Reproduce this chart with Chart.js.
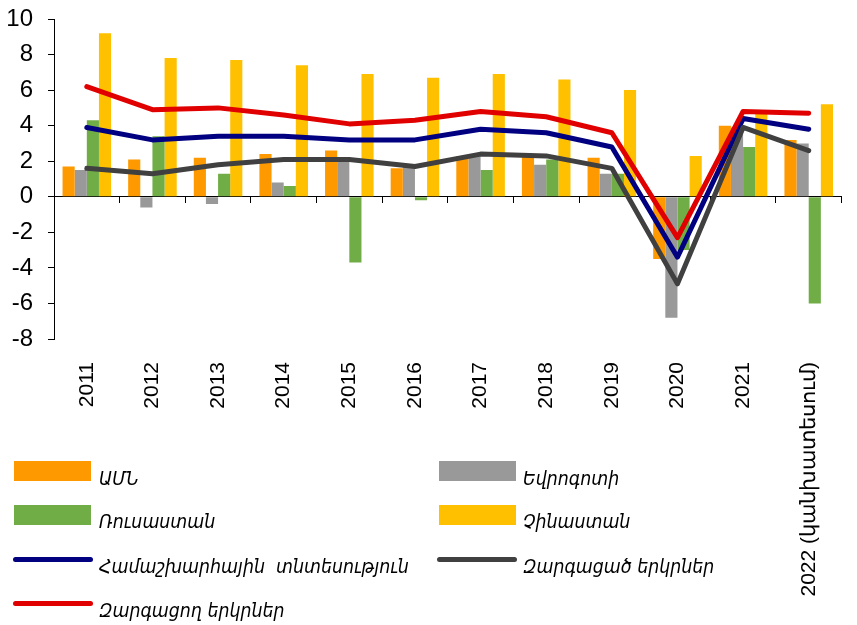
<!DOCTYPE html>
<html>
<head>
<meta charset="utf-8">
<script src="https://cdn.jsdelivr.net/npm/chart.js@4.4.1/dist/chart.umd.min.js"></script>
<style>
  html, body { margin: 0; padding: 0; background: #fff; }
  #wrap { position: relative; width: 857px; height: 625px; }
  #legend .sw { position: absolute; }
  #legend .tx { position: absolute; font-family: 'DejaVu Sans'; font-style: italic; font-size: 20px; line-height: 20px; color: #000; white-space: pre; transform: scaleX(0.87); transform-origin: 0 0; }
</style>
</head>
<body>
<div id="wrap">
  <canvas id="chart" width="857" height="625"></canvas>
  <div id="legend"></div>
</div>
<script>
// categories
const years = ['2011', '2012', '2013', '2014', '2015', '2016', '2017', '2018', '2019', '2020', '2021', '2022 (կանխատեսում)'];

// bars
const usa    = [1.7, 2.1, 2.2, 2.4, 2.6, 1.6, 2.3, 2.3, 2.2, -3.5, 4.0, 3.2];
const euro   = [1.5, -0.6, -0.4, 0.8, 2.0, 1.7, 2.4, 1.8, 1.3, -6.8, 3.9, 3.0];
const russia = [4.3, 3.4, 1.3, 0.6, -3.7, -0.2, 1.5, 2.1, 1.3, -3.0, 2.8, -6.0];
const china  = [9.2, 7.8, 7.7, 7.4, 6.9, 6.7, 6.9, 6.6, 6.0, 2.3, 4.8, 5.2];

// lines
const world      = [3.9, 3.2, 3.4, 3.4, 3.2, 3.2, 3.8, 3.6, 2.8, -3.4, 4.4, 3.8];
const advanced   = [1.6, 1.3, 1.8, 2.1, 2.1, 1.7, 2.4, 2.3, 1.6, -4.9, 3.9, 2.6];
const developing = [6.2, 4.9, 5.0, 4.6, 4.1, 4.3, 4.8, 4.5, 3.6, -2.3, 4.8, 4.7];

const yTicks = [-8, -6, -4, -2, 0, 2, 4, 6, 8, 10];

const names = {
  usa: 'ԱՄՆ',
  euro: 'Եվրոգոտի',
  russia: 'Ռուսաստան',
  china: 'Չինաստան',
  world: 'Համաշխարհային  տնտեսություն',
  advanced: 'Զարգացած երկրներ',
  developing: 'Զարգացող երկրներ'
};

const colors = {
  usa: '#FF9900',
  euro: '#999999',
  russia: '#70AD47',
  china: '#FFC000',
  world: '#000080',
  advanced: '#404040',
  developing: '#E00000'
};

const bar = (key, data) => ({
  type: 'bar',
  label: names[key],
  data,
  backgroundColor: colors[key],
  borderWidth: 0,
  categoryPercentage: 0.74,
  barPercentage: 1.0,
  order: 3
});

const line = (key, data, order) => ({
  type: 'line',
  label: names[key],
  data,
  borderColor: colors[key],
  backgroundColor: colors[key],
  borderWidth: 5,
  pointRadius: 0,
  tension: 0,
  fill: false,
  borderCapStyle: 'round',
  borderJoinStyle: 'round',
  order
});

const ctx = document.getElementById('chart').getContext('2d');
new Chart(ctx, {
  type: 'bar',
  data: {
    labels: years,
    datasets: [
      bar('usa', usa),
      bar('euro', euro),
      bar('russia', russia),
      bar('china', china),
      line('world', world, 2),
      line('advanced', advanced, 1),
      line('developing', developing, 0)
    ]
  },
  options: {
    responsive: false,
    animation: false,
    layout: { padding: { top: 0, right: 2, left: 0, bottom: 0 } },
    plugins: { legend: { display: false }, tooltip: { enabled: false } },
    scales: {
      x: {
        type: 'category',
        offset: true,
        grid: { display: false, drawTicks: false },
        border: { display: false },
        ticks: {
          autoSkip: false,
          minRotation: 90,
          maxRotation: 90,
          padding: 23,
          color: '#000',
          font: { family: "'Liberation Sans', Arial", size: 21 }
        },
        afterFit: s => { s.height = 286; }
      },
      x0: {
        type: 'category',
        position: { y: 0 },
        offset: true,
        grid: { offset: true, drawOnChartArea: false, drawTicks: true, tickLength: 6, color: '#000' },
        border: { color: '#000', width: 1 },
        ticks: { display: false }
      },
      y: {
        min: -8,
        max: 10,
        afterBuildTicks: s => { s.ticks = yTicks.map(v => ({ value: v })); },
        ticks: {
          padding: 15,
          color: '#000',
          font: { family: "'Liberation Sans', Arial", size: 24 }
        },
        grid: { drawOnChartArea: false, tickLength: 6, color: '#000' },
        border: { color: '#000', width: 1 },
        afterFit: s => { s.width = 54; s.paddingTop = 19; s.paddingBottom = 0; }
      }
    }
  }
});

// legend (html, two columns)
const legendItems = [
  { key: 'usa',        kind: 'box',  x: 14,  y: 461, tx: 99,  ty: 468 },
  { key: 'euro',       kind: 'box',  x: 439, y: 461, tx: 523, ty: 468 },
  { key: 'russia',     kind: 'box',  x: 14,  y: 505, tx: 99,  ty: 511 },
  { key: 'china',      kind: 'box',  x: 439, y: 505, tx: 523, ty: 511 },
  { key: 'world',      kind: 'line', x: 13,  y: 559, tx: 99,  ty: 556 },
  { key: 'advanced',   kind: 'line', x: 437, y: 559, tx: 523, ty: 556 },
  { key: 'developing', kind: 'line', x: 13,  y: 603, tx: 99,  ty: 600 }
];
const legend = document.getElementById('legend');
legendItems.forEach(it => {
  const sw = document.createElement('div');
  sw.className = 'sw';
  sw.style.background = colors[it.key];
  if (it.kind === 'box') {
    sw.style.left = it.x + 'px'; sw.style.top = it.y + 'px';
    sw.style.width = '77px'; sw.style.height = '20px';
  } else {
    sw.style.left = it.x + 'px'; sw.style.top = (it.y - 2.5) + 'px';
    sw.style.width = '80px'; sw.style.height = '5px'; sw.style.borderRadius = '3px';
  }
  legend.appendChild(sw);
  const tx = document.createElement('div');
  tx.className = 'tx';
  tx.style.left = it.tx + 'px'; tx.style.top = it.ty + 'px';
  tx.textContent = names[it.key];
  legend.appendChild(tx);
});
</script>
</body>
</html>
